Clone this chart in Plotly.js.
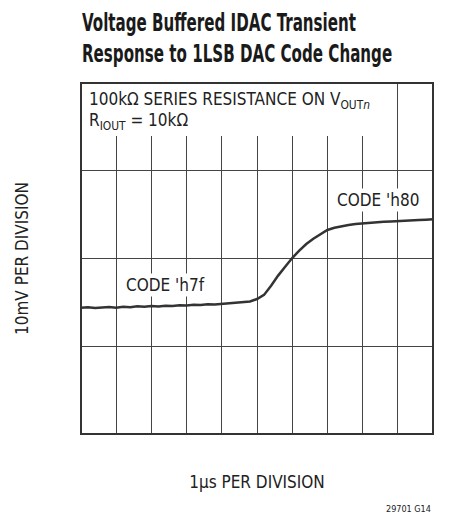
<!DOCTYPE html>
<html>
<head>
<meta charset="utf-8">
<script src="https://cdn.plot.ly/plotly-3.0.1.min.js"></script>
<style>
  html, body { margin: 0; padding: 0; background: #fff; }
  #chart { width: 461px; height: 515px; }
  /* condensed headline look (Helvetica Condensed Bold in the original) */
  #chart .gtitle { transform-origin: 82px 0px; transform: scaleX(0.70); }
</style>
</head>
<body>
<div id="chart"></div>
<script>
// Time in microseconds (1 µs per division)
const timeUs = [0.0,0.2,0.4,0.6,0.8,1.0,1.2,1.4,1.6,1.8,2.0,2.2,2.4,2.6,2.8,3.0,3.2,3.4,3.6,3.8,
  4.0,4.2,4.4,4.6,4.8,5.0,5.2,5.4,5.6,5.8,6.0,6.2,6.4,6.6,6.8,7.0,7.2,7.4,7.6,7.8,
  8.0,8.2,8.4,8.6,8.8,9.0,9.2,9.4,9.6,9.8,10.0];
// Output voltage deviation in mV (10 mV per division)
const voltageMv = [-5.60,-5.55,-5.65,-5.58,-5.52,-5.60,-5.50,-5.55,-5.45,-5.50,-5.42,-5.48,-5.38,-5.42,-5.32,-5.35,-5.28,-5.30,-5.22,-5.25,
  -5.18,-5.12,-5.08,-4.98,-4.90,-4.62,-4.15,-3.10,-1.95,-0.95,0.05,0.90,1.65,2.25,2.80,3.25,3.50,3.70,3.82,3.92,
  4.00,4.08,4.12,4.18,4.22,4.28,4.30,4.36,4.38,4.42,4.47];
const xTicks = [0,1,2,3,4,5,6,7,8,9,10];
const yTicks = [-20,-10,0,10,20];
const codeLabels = ["CODE 'h7f", "CODE 'h80"];

const FONT = '"Liberation Sans Narrow", "DejaVu Sans Condensed", "Arial Narrow", sans-serif';
const INK = '#222';

const trace = {
  x: timeUs, y: voltageMv, type: 'scatter', mode: 'lines',
  line: { color: '#333', width: 2.5 }, hoverinfo: 'skip', showlegend: false
};

const layout = {
  width: 461, height: 515,
  margin: { l: 81, r: 28, t: 83, b: 81 },
  paper_bgcolor: '#fff', plot_bgcolor: '#fff',
  font: { family: FONT, color: INK, size: 17 },
  title: {
    text: 'Voltage Buffered IDAC Transient<br>Response to 1LSB DAC Code Change',
    font: { family: FONT, size: 24, weight: 'bold', color: '#1a1a1a' },
    x: 82 / 461, xanchor: 'left', xref: 'container',
    y: 1 - 31 / 515, yanchor: 'top', yref: 'container'
  },
  xaxis: {
    range: [0, 10], tickvals: xTicks, showticklabels: false, ticks: '',
    showgrid: true, gridcolor: '#444', gridwidth: 1, zeroline: false, showline: false,
    fixedrange: true,
    title: { text: '1µs PER DIVISION', font: { family: FONT, size: 17, color: INK }, standoff: 42 },
    automargin: false
  },
  yaxis: {
    range: [-20, 20], tickvals: yTicks, showticklabels: false, ticks: '',
    showgrid: true, gridcolor: '#444', gridwidth: 1, zeroline: false, showline: false,
    fixedrange: true,
    title: { text: '10mV PER DIVISION', font: { family: FONT, size: 17, color: INK }, standoff: 47 },
    automargin: false
  },
  shapes: [
    { type: 'rect', xref: 'x', yref: 'paper', x0: 0, x1: 8.93, y0: (434 - 136) / 351, y1: 1,
      fillcolor: '#fff', line: { width: 0 }, layer: 'above' },
    { type: 'rect', xref: 'paper', yref: 'paper', x0: 0, x1: 1, y0: 0, y1: 1,
      line: { color: '#333', width: 2 }, fillcolor: 'rgba(0,0,0,0)', layer: 'above' }
  ],
  annotations: [
    { xref: 'paper', yref: 'paper', x: 0.017, y: (434 - 100) / 351, xanchor: 'left', yanchor: 'middle',
      text: '100kΩ SERIES RESISTANCE ON V<sub>OUT<i>n</i></sub>', showarrow: false,
      font: { family: FONT, size: 17, color: INK } },
    { xref: 'paper', yref: 'paper', x: 0.017, y: (434 - 121.5) / 351, xanchor: 'left', yanchor: 'middle',
      text: 'R<sub>IOUT</sub> = 10kΩ', showarrow: false,
      font: { family: FONT, size: 17, color: INK } },
    { xref: 'x', yref: 'y', x: 2.41, y: -3.02, xanchor: 'center', yanchor: 'middle',
      text: codeLabels[0], showarrow: false, bgcolor: '#fff', borderpad: 1,
      font: { family: FONT, size: 17, color: INK } },
    { xref: 'x', yref: 'y', x: 8.44, y: 6.67, xanchor: 'center', yanchor: 'middle',
      text: codeLabels[1], showarrow: false, bgcolor: '#fff', borderpad: 1,
      font: { family: FONT, size: 17, color: INK } },
    { xref: 'paper', yref: 'paper', x: 1.0, y: (434 - 509) / 351, xanchor: 'right', yanchor: 'middle',
      text: '29701 G14', showarrow: false,
      font: { family: FONT, size: 9, color: INK } }
  ]
};

Plotly.newPlot('chart', [trace], layout, { staticPlot: true, displayModeBar: false });
</script>
</body>
</html>
